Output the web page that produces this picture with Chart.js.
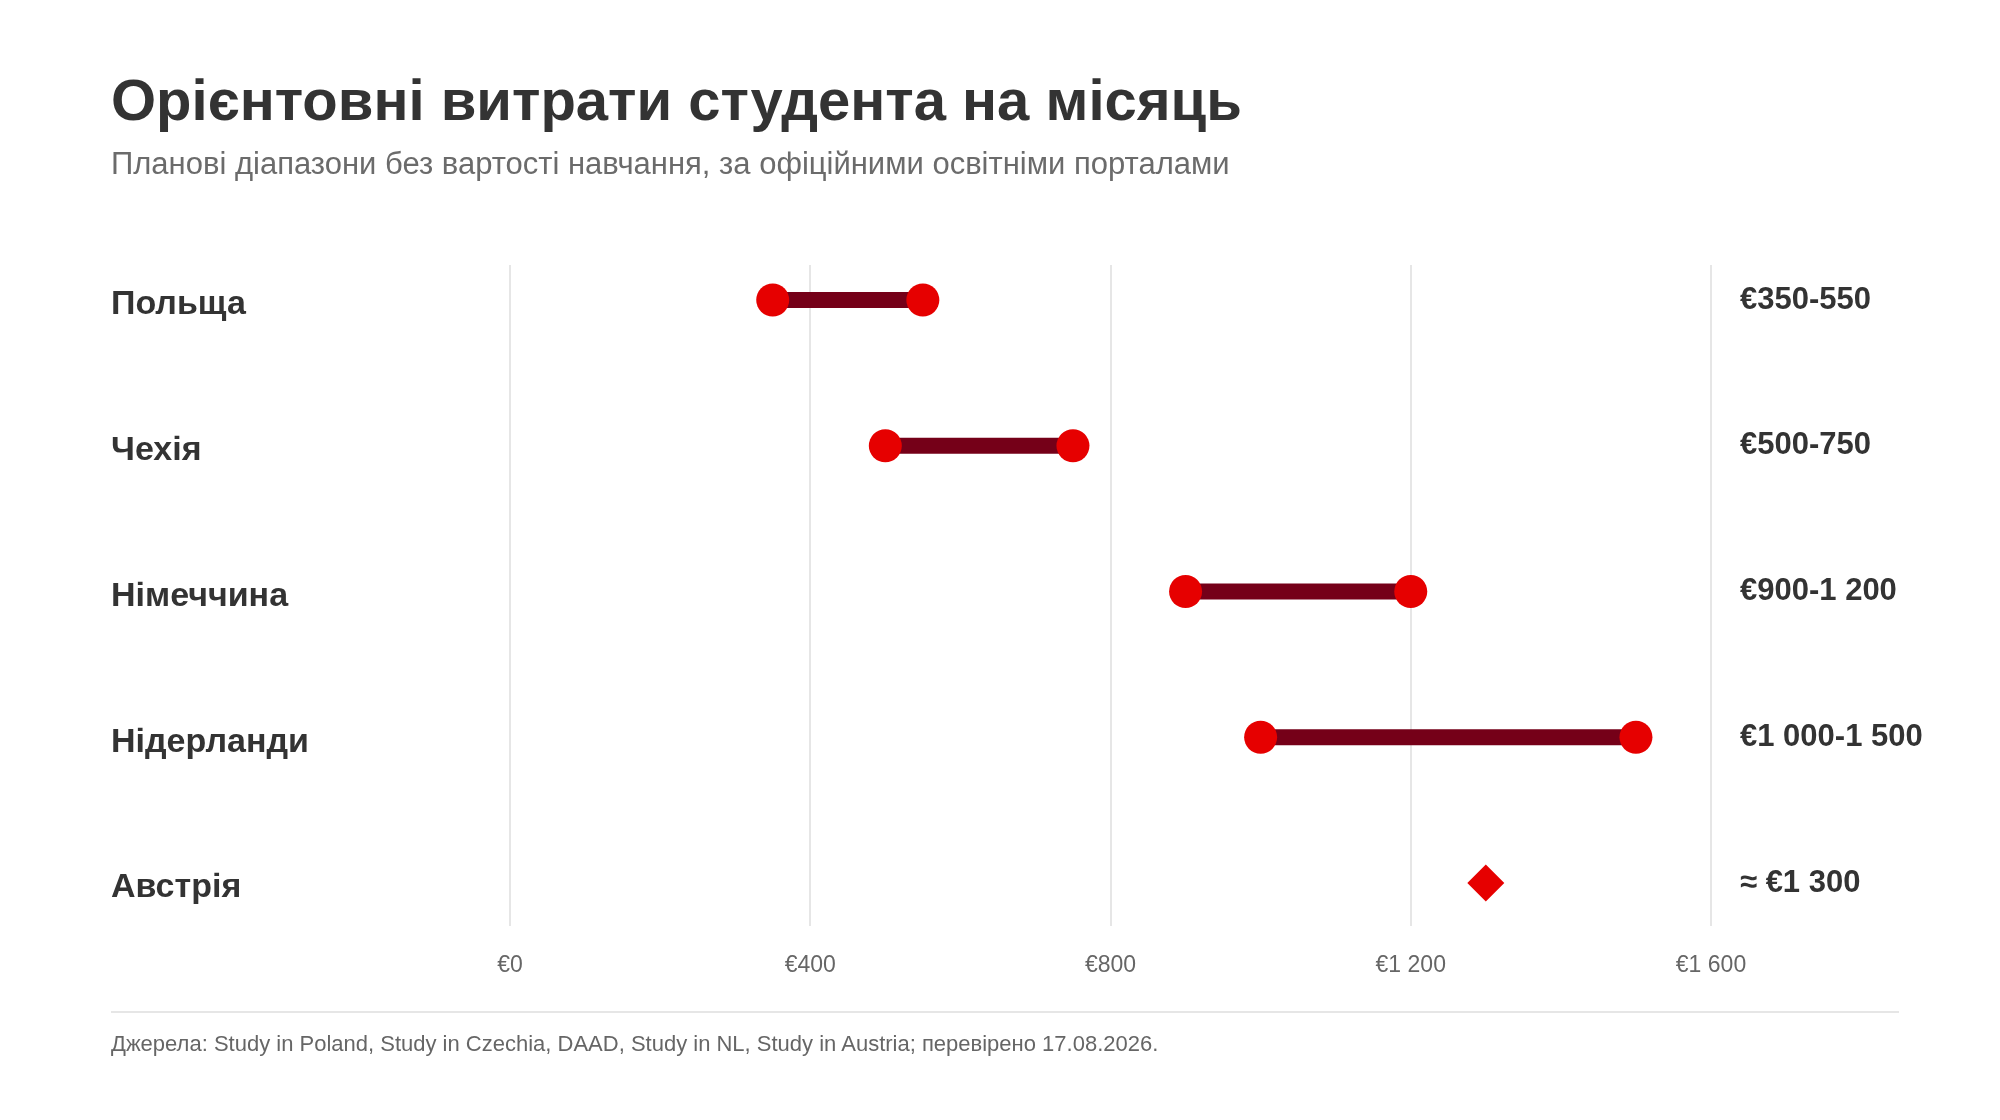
<!DOCTYPE html>
<html lang="uk">
<head>
<meta charset="utf-8">
<title>Орієнтовні витрати студента на місяць</title>
<script src="https://cdn.jsdelivr.net/npm/chart.js@4.4.1/dist/chart.umd.min.js"></script>
<style>
  html, body { margin: 0; padding: 0; background: #fff; }
  body { width: 2000px; height: 1120px; position: relative; overflow: hidden;
         font-family: "Liberation Sans", Arial, sans-serif; }
  #chart { position: absolute; left: 0; top: 0; }
  .txt { position: absolute; left: 111px; white-space: nowrap; }
  #title { top: 71px; font-size: 58px; line-height: 58px; font-weight: bold; color: #333; }
  #subtitle { top: 148px; font-size: 31px; line-height: 31px; color: #6b6b6b; }
  #rule { position: absolute; left: 111px; top: 1011px; width: 1788px; height: 2px; background: #e6e6e6; }
  #source { top: 1033px; font-size: 22px; line-height: 22px; color: #666; }
</style>
</head>
<body>
<canvas id="chart" width="2000" height="1120"></canvas>
<div id="title" class="txt">Орієнтовні витрати студента на місяць</div>
<div id="subtitle" class="txt">Планові діапазони без вартості навчання, за офіційними освітніми порталами</div>
<div id="rule"></div>
<div id="source" class="txt">Джерела: Study in Poland, Study in Czechia, DAAD, Study in NL, Study in Austria; перевірено 17.08.2026.</div>
<script>
// values
const categories = ['Польща', 'Чехія', 'Німеччина', 'Нідерланди', 'Австрія'];
const lowValues = [350, 500, 900, 1000, null];
const highValues = [550, 750, 1200, 1500, null];
const singleValues = [null, null, null, null, 1300];
const rangeLabels = ['€350-550', '€500-750', '€900-1 200', '€1 000-1 500', '≈ €1 300'];
const xTickValues = [0, 400, 800, 1200, 1600];
const xTickLabels = ['€0', '€400', '€800', '€1 200', '€1 600'];

const DOT_RED = '#e60000';
const BAR_DARK = '#750018';
const FONT = '"Liberation Sans", Arial, sans-serif';

// one dumbbell dataset per country with a range
const datasets = [];
categories.forEach((name, i) => {
    if (lowValues[i] == null) return;
    datasets.push({
        label: name,
        data: [{ x: lowValues[i], y: i }, { x: highValues[i], y: i }],
        showLine: true,
        borderColor: BAR_DARK,
        borderWidth: 16,
        borderCapStyle: 'butt',
        pointRadius: 16.5,
        pointHoverRadius: 16.5,
        pointBackgroundColor: DOT_RED,
        pointBorderWidth: 0
    });
});

// single estimate (diamond)
datasets.push({
    label: 'single',
    data: singleValues
        .map((v, i) => (v == null ? null : { x: v, y: i }))
        .filter(p => p !== null),
    pointStyle: 'rectRot',
    pointRadius: 18.5,
    pointHoverRadius: 18.5,
    pointBackgroundColor: DOT_RED,
    pointBorderWidth: 0
});

const rowTicks = scale => { scale.ticks = categories.map((c, i) => ({ value: i })); };

new Chart(document.getElementById('chart'), {
    type: 'scatter',
    data: { datasets },
    options: {
        responsive: false,
        animation: false,
        devicePixelRatio: 1,
        layout: { padding: { left: 111, right: 0, top: 265, bottom: 74 } },
        plugins: {
            legend: { display: false },
            tooltip: { enabled: false }
        },
        scales: {
            x: {
                type: 'linear',
                min: 0,
                max: 1600,
                afterBuildTicks: scale => { scale.ticks = xTickValues.map(v => ({ value: v })); },
                afterFit: scale => { scale.height = 120; },
                grid: { color: '#e6e6e6', lineWidth: 2, drawTicks: false },
                border: { display: false },
                ticks: {
                    padding: 26,
                    color: '#666',
                    font: { family: FONT, size: 23 },
                    callback: (v, idx) => xTickLabels[idx]
                }
            },
            y: {
                type: 'linear',
                position: 'left',
                reverse: true,
                min: -0.24,
                max: 4.295,
                afterBuildTicks: rowTicks,
                afterFit: scale => { scale.width = 399; },
                grid: { display: false, drawTicks: false },
                border: { display: false },
                ticks: {
                    crossAlign: 'far',
                    padding: 0,
                    labelOffset: 5,
                    color: '#333',
                    font: { family: FONT, size: 34, weight: 'bold' },
                    callback: (v, idx) => categories[idx]
                }
            },
            y2: {
                type: 'linear',
                position: 'right',
                reverse: true,
                min: -0.24,
                max: 4.295,
                afterBuildTicks: rowTicks,
                afterFit: scale => { scale.width = 289; },
                grid: { display: false, drawTicks: false },
                border: { display: false },
                ticks: {
                    padding: 29,
                    color: '#333',
                    font: { family: FONT, size: 31, weight: 'bold' },
                    callback: (v, idx) => rangeLabels[idx]
                }
            }
        }
    }
});
</script>
</body>
</html>
